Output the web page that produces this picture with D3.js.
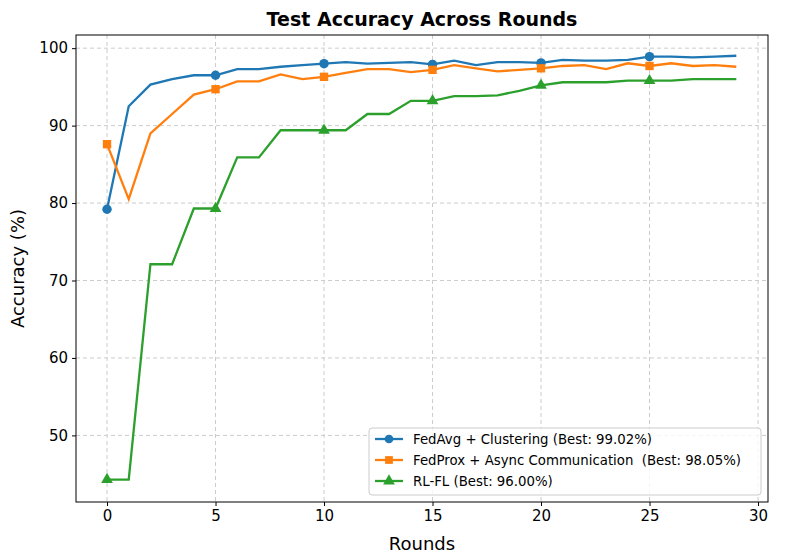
<!DOCTYPE html><html><head><script src="https://cdn.jsdelivr.net/npm/d3@7"></script>
<style>body{margin:0;background:#fff;font-family:"DejaVu Sans",sans-serif}text{white-space:pre}</style></head><body><svg id="c" width="793" height="558"></svg>
<script>
const rounds=d3.range(30);
const fedavg=[79.2,92.5,95.3,96,96.5,96.5,97.3,97.3,97.6,97.8,98.0,98.2,98.0,98.1,98.2,97.9,98.4,97.8,98.2,98.2,98.1,98.5,98.4,98.4,98.5,98.9,98.9,98.8,98.9,99.02];
const fedprox=[87.6,80.5,89,91.5,94,94.7,95.7,95.7,96.6,96.0,96.3,96.8,97.3,97.3,96.9,97.2,97.8,97.4,97.0,97.2,97.4,97.7,97.8,97.3,98.05,97.7,98.05,97.7,97.8,97.6];
const rlfl=[44.3,44.3,72.1,72.1,79.3,79.3,85.9,85.9,89.4,89.4,89.4,89.4,91.5,91.5,93.2,93.2,93.8,93.8,93.9,94.5,95.2,95.6,95.6,95.6,95.8,95.8,95.8,96.0,96.0,96.0];
const names=["FedAvg + Clustering (Best: 99.02%)","FedProx + Async Communication  (Best: 98.05%)","RL-FL (Best: 96.00%)"];
const colors=["#1f77b4","#ff7f0e","#2ca02c"];
const shapes=[d3.symbolCircle,d3.symbolSquare,d3.symbolTriangle];
const xTicks=[0,5,10,15,20,25,30], yTicks=[50,60,70,80,90,100];
const L=76,R=768,T=35,B=502;
const svg=d3.select("#c");
const x=d3.scaleLinear().domain([-1.43,30.46]).range([L,R]);
const y=d3.scaleLinear().domain([41.4,101.7]).range([B,T]);
const g=svg.append("g");
xTicks.forEach(t=>g.append("line").attr("x1",x(t)).attr("x2",x(t)).attr("y1",T).attr("y2",B).attr("stroke","#ccc").attr("stroke-dasharray","4,3"));
yTicks.forEach(t=>g.append("line").attr("x1",L).attr("x2",R).attr("y1",y(t)).attr("y2",y(t)).attr("stroke","#ccc").attr("stroke-dasharray","4,3"));
const xa=svg.append("g").attr("transform",`translate(0,${B})`).call(d3.axisBottom(x).tickValues(xTicks).tickSize(4).tickPadding(4));
const ya=svg.append("g").attr("transform",`translate(${L},0)`).call(d3.axisLeft(y).tickValues(yTicks).tickSize(4).tickPadding(4));
[xa,ya].forEach(a=>{a.select(".domain").remove();a.selectAll("text").attr("font-size",15).attr("fill","#000").attr("font-family","DejaVu Sans");a.selectAll("line").attr("stroke","#000");});
[fedavg,fedprox,rlfl].forEach((s,i)=>{
 svg.append("path").datum(s).attr("fill","none").attr("stroke",colors[i]).attr("stroke-width",2.3)
  .attr("d",d3.line().x((d,j)=>x(rounds[j])).y(d=>y(d)));
 svg.selectAll(null).data(rounds.filter(r=>r%5===0)).enter().append("path")
  .attr("d",d3.symbol().type(shapes[i]).size(i===2?60:70)).attr("fill",colors[i])
  .attr("transform",r=>`translate(${x(r)},${y(s[r])})`);
});
svg.append("rect").attr("x",L).attr("y",T).attr("width",R-L).attr("height",B-T).attr("fill","none").attr("stroke","#000");
svg.append("text").attr("x",(L+R)/2).attr("y",26).attr("text-anchor","middle").attr("font-size",19).attr("font-weight","bold").text("Test Accuracy Across Rounds");
svg.append("text").attr("x",(L+R)/2).attr("y",550).attr("text-anchor","middle").attr("font-size",18).text("Rounds");
svg.append("text").attr("transform",`translate(24,${(T+B)/2}) rotate(-90)`).attr("text-anchor","middle").attr("font-size",18).text("Accuracy (%)");
const lg=svg.append("g").attr("transform","translate(369,428)");
lg.append("rect").attr("width",392).attr("height",67).attr("rx",3).attr("fill","#fff").attr("fill-opacity",0.8).attr("stroke","#ccc");
names.forEach((n,i)=>{const yy=11+i*21;
 lg.append("line").attr("x1",6).attr("x2",34).attr("y1",yy).attr("y2",yy).attr("stroke",colors[i]).attr("stroke-width",2.3);
 lg.append("path").attr("d",d3.symbol().type(shapes[i]).size(60)).attr("fill",colors[i]).attr("transform",`translate(20,${yy})`);
 lg.append("text").attr("x",44).attr("y",yy+4.5).attr("font-size",13.3).text(n);});
</script></body></html>
